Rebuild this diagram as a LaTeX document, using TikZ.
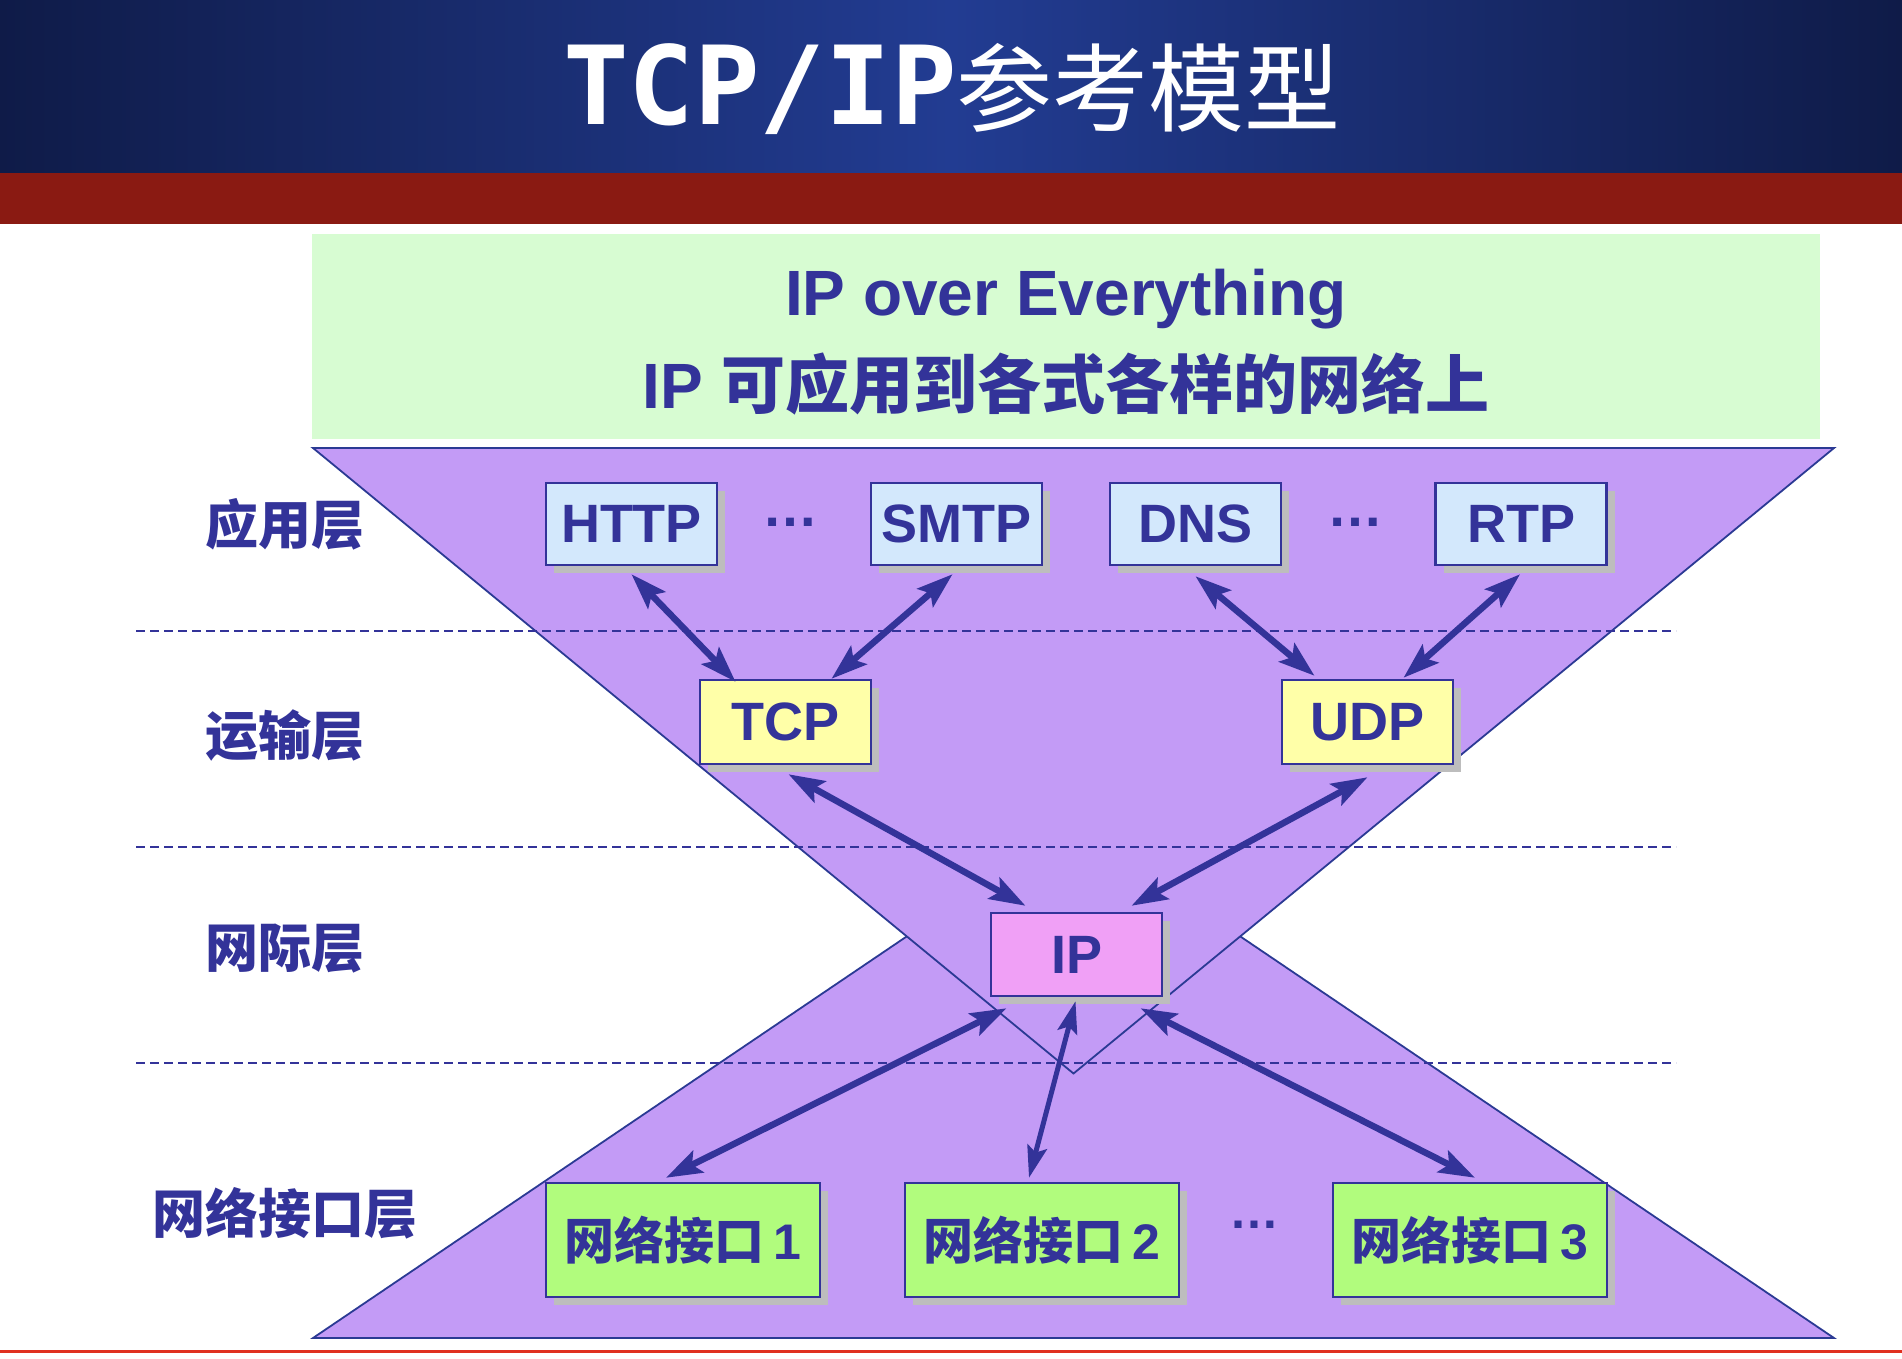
\documentclass[tikz,border=0pt]{standalone}
\usepackage{fontspec}
\setmainfont{Liberation Sans}
\newfontfamily\cjk{Noto Sans CJK SC}
\newfontfamily\monob{DejaVu Sans Mono}
\usetikzlibrary{arrows.meta,calc,shadows}
\definecolor{hdark}{HTML}{0F1B48}
\definecolor{hlight}{HTML}{223C92}
\definecolor{redband}{HTML}{8A1A12}
\definecolor{banner}{HTML}{D7FCD2}
\definecolor{purp}{HTML}{C39BF6}
\definecolor{dblue}{HTML}{333399}
\definecolor{tline}{HTML}{2B3A94}
\definecolor{appfill}{HTML}{D3E8FC}
\definecolor{tcpfill}{HTML}{FFFFA8}
\definecolor{ipfill}{HTML}{F0A0F6}
\definecolor{nifill}{HTML}{B1FC7D}
\definecolor{shadowgray}{HTML}{BDBDBD}
\definecolor{botred}{HTML}{E03020}
\tikzset{
  boxbase/.style={draw=dblue, line width=2.5pt, inner sep=0pt, text=dblue,
    general shadow={fill=shadowgray, shadow xshift=8pt, shadow yshift=-8pt}},
  appbox/.style={boxbase, fill=appfill, minimum width=171pt, minimum height=82pt,
    font=\fontsize{54}{60}\selectfont\bfseries},
  tcpbox/.style={boxbase, fill=tcpfill, minimum width=171pt, minimum height=84pt,
    font=\fontsize{54}{60}\selectfont\bfseries},
  ipbox/.style={boxbase, fill=ipfill, minimum width=171pt, minimum height=83pt,
    font=\fontsize{54}{60}\selectfont\bfseries},
  nibox/.style={boxbase, fill=nifill, minimum width=274pt, minimum height=114pt,
    font=\fontsize{50}{56}\selectfont\bfseries},
  layerlbl/.style={text=dblue, inner sep=0pt, font=\fontsize{53}{60}\selectfont\cjk\bfseries},
  dotlbl/.style={text=dblue, inner sep=0pt, font=\fontsize{56}{60}\selectfont\bfseries},
  arr/.style={draw=dblue, line width=6.5pt, {Stealth[length=36pt,width=24pt,inset=7pt]}-{Stealth[length=36pt,width=24pt,inset=7pt]}},
  arrthin/.style={draw=dblue, line width=5pt, {Stealth[length=32pt,width=20pt,inset=6pt]}-{Stealth[length=32pt,width=20pt,inset=6pt]}},
  divider/.style={draw=dblue, line width=2pt, dash pattern=on 9pt off 5pt},
  tri/.style={fill=purp, draw=tline, line width=1.8pt, line join=miter}
}
\begin{document}
\begin{tikzpicture}[x=1pt, y=-1pt]
\useasboundingbox (0,0) rectangle (1902,1358);
\fill[white] (0,0) rectangle (1902,1358);
% header
\shade[left color=hdark, right color=hdark, middle color=hlight] (0,0) rectangle (1902,173);
\fill[redband] (0,173) rectangle (1902,224);
\node[anchor=base, text=white, inner sep=0pt] (title) at (952,124)
  {{\fontsize{109}{120}\selectfont\monob\bfseries TCP/IP}{\fontsize{96}{110}\selectfont\cjk 参考模型}};
% banner
\fill[banner] (312,234) rectangle (1820,439);
\node[anchor=base, text=dblue, inner sep=0pt, font=\fontsize{64}{70}\selectfont\bfseries] (b1) at (1066,315) {IP over Everything};
\node[anchor=base, text=dblue, inner sep=0pt, font=\fontsize{64}{70}\selectfont\bfseries] (b2) at (1066,408) {IP {\cjk 可应用到各式各样的网络上}};
% triangles
\draw[tri] (313,1338) -- (1834,1338) -- (1073.5,823.6) -- cycle;
\draw[tri] (313,448) -- (1834,448) -- (1073.5,1073.5) -- cycle;
% dividers
\draw[divider] (136,631) -- (1676,631);
\draw[divider] (136,847) -- (1676,847);
\draw[divider] (136,1063) -- (1676,1063);
% layer labels
\node[layerlbl] (l1) at (285,524) {应用层};
\node[layerlbl] (l2) at (285,736) {运输层};
\node[layerlbl] (l3) at (285,949) {网际层};
\node[layerlbl] (l4) at (285,1213) {网络接口层};
% boxes
\node[appbox] (http) at (631.5,524) {HTTP};
\node[appbox] (smtp) at (956.5,524) {SMTP};
\node[appbox] (dns) at (1195.5,524) {DNS};
\node[appbox] (rtp) at (1521,524) {RTP};
\node[dotlbl] (d1) at (790,522) {…};
\node[dotlbl] (d2) at (1355,522) {…};
\node[tcpbox] (tcp) at (785.5,722) {TCP};
\node[tcpbox] (udp) at (1367.5,722) {UDP};
\node[ipbox] (ip) at (1076.5,954.5) {IP};
\node[nibox] (ni1) at (683,1240) {{\cjk 网络接口}\,1};
\node[nibox] (ni2) at (1042,1240) {{\cjk 网络接口}\,2};
\node[nibox] (ni3) at (1470,1240) {{\cjk 网络接口}\,3};
\node[dotlbl, font=\fontsize{50}{56}\selectfont\bfseries] (d3) at (1254,1225) {…};
% arrows
\draw[arr] ($(http.south)+(0,8)$) -- ($(tcp.north)+(-50,3)$);
\draw[arr] ($(smtp.south)+(-4,8)$) -- ($(tcp.north)+(46,0)$);
\draw[arr] ($(dns.south)+(0,10)$) -- ($(udp.north)+(-53,-3)$);
\draw[arr] ($(rtp.south)+(-1,8)$) -- ($(udp.north)+(36,-1)$);
\draw[arr] ($(tcp.south)+(3,9)$) -- ($(ip.north)+(-51,-6)$);
\draw[arr] ($(udp.south)+(0,12)$) -- ($(ip.north)+(55,-6)$);
\draw[arr] ($(ip.south)+(-70,11)$) -- ($(ni1.north)+(-17,-4)$);
\draw[arrthin] ($(ip.south)+(-1,4)$) -- ($(ni2.north)+(-13,-4)$);
\draw[arr] ($(ip.south)+(64,11)$) -- ($(ni3.north)+(5,-4)$);
% bottom rule
\draw[botred, line width=3pt] (0,1351) -- (1902,1351);
\end{tikzpicture}
\end{document}
